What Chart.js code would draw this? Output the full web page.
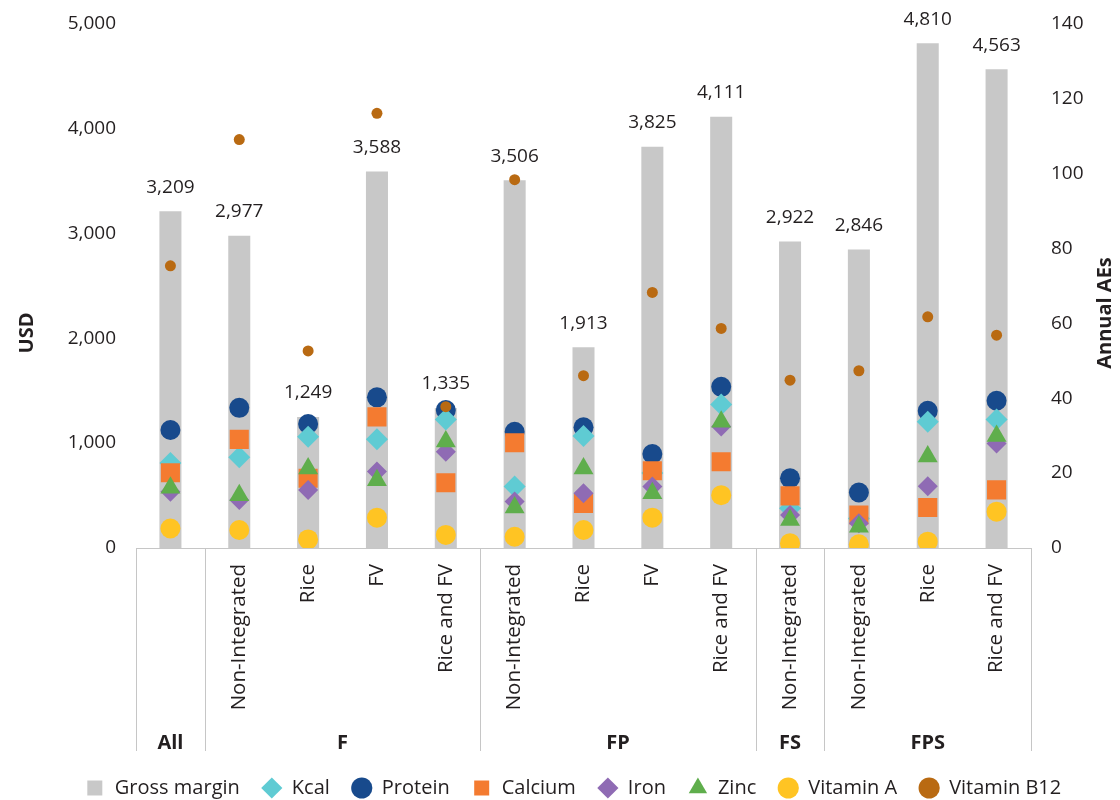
<!DOCTYPE html>
<html>
<head>
<meta charset="utf-8">
<script src="https://cdn.jsdelivr.net/npm/chart.js@4.4.0/dist/chart.umd.min.js"></script>
<style>
  html, body { margin: 0; padding: 0; background: #fff; }
  #wrap { width: 1120px; height: 800px; }
</style>
</head>
<body>
<div id="wrap"><canvas id="myChart"></canvas></div>
<script>
// Categories (sub-labels under each bar) and their groups
const categories = ['', 'Non-Integrated', 'Rice', 'FV', 'Rice and FV',
  'Non-Integrated', 'Rice', 'FV', 'Rice and FV',
  'Non-Integrated',
  'Non-Integrated', 'Rice', 'Rice and FV'];
const groupNames = ['All', 'F', 'FP', 'FS', 'FPS'];
const groupSizes = [1, 4, 4, 1, 3];

// Gross margin, USD (left axis)
const grossMargin = [3209, 2977, 1249, 3588, 1335, 3506, 1913, 3825, 4111, 2922, 2846, 4810, 4563];

// Annual AEs (right axis)
const kcal     = [22.7, 24.2, 29.7, 29.0, 34.3, 16.4, 29.9, 20.0, 38.3, 10.6, 7.9, 33.7, 34.3];
const protein  = [31.5, 37.4, 33.1, 40.2, 36.8, 31.0, 32.2, 25.1, 43.0, 18.6, 14.8, 36.6, 39.3];
const calcium  = [20.1, 29.0, 18.6, 35.0, 17.4, 28.1, 11.9, 20.6, 23.0, 13.9, 8.8, 10.8, 15.5];
const iron     = [15.0, 12.8, 15.5, 20.4, 25.7, 12.4, 14.6, 16.4, 32.4, 8.8, 6.6, 16.5, 27.9];
const zinc     = [16.1, 14.1, 21.2, 18.1, 28.4, 10.8, 21.2, 14.6, 33.7, 7.5, 5.7, 24.4, 29.9];
const vitaminA = [5.2, 4.8, 2.3, 8.1, 3.5, 3.0, 4.8, 8.1, 14.1, 1.3, 1.0, 1.7, 9.7];
const vitaminB12 = [75.3, 109, 52.6, 116, 37.7, 98.3, 46.0, 68.2, 58.6, 44.8, 47.3, 61.7, 56.8];

const FONT = "'Open Sans', 'Noto Sans', sans-serif";
const TEXT = '#231f20';
const LINE = '#c6c6c6';

Chart.defaults.font.family = FONT;
Chart.defaults.color = TEXT;

// Helper for the marker series
const marker = (label, data, color, style, radius, order) => ({
  type: 'line',
  label: label,
  data: data,
  yAxisID: 'y1',
  showLine: false,
  backgroundColor: color,
  borderColor: color,
  borderWidth: 0,
  pointStyle: style,
  pointRadius: radius,
  pointHoverRadius: radius,
  pointBorderWidth: 0,
  order: order
});

// Value labels above the bars
const barLabels = {
  id: 'barLabels',
  afterDatasetsDraw(chart) {
    const { ctx } = chart;
    const meta = chart.getDatasetMeta(0);
    ctx.save();
    ctx.font = '19px ' + FONT;
    ctx.fillStyle = TEXT;
    ctx.textAlign = 'center';
    ctx.textBaseline = 'middle';
    meta.data.forEach((bar, i) => {
      ctx.fillText(grossMargin[i].toLocaleString('en-US'), bar.x, bar.y - 24);
    });
    ctx.restore();
  }
};

// Group separators and group names under the x axis
const groupAxis = {
  id: 'groupAxis',
  afterDraw(chart) {
    const { ctx, chartArea } = chart;
    const x = chart.scales.x;
    const half = (x.getPixelForTick(1) - x.getPixelForTick(0)) / 2;
    const top = chartArea.bottom;
    const bottom = chartArea.bottom + 203;
    const edges = [x.getPixelForTick(0) - half];
    let count = 0;
    groupSizes.forEach(n => {
      count += n;
      edges.push(x.getPixelForTick(count - 1) + half);
    });
    ctx.save();
    ctx.strokeStyle = LINE;
    ctx.lineWidth = 1;
    edges.forEach(px => {
      ctx.beginPath();
      ctx.moveTo(Math.round(px) + 0.5, top);
      ctx.lineTo(Math.round(px) + 0.5, bottom);
      ctx.stroke();
    });
    ctx.font = 'bold 20px ' + FONT;
    ctx.fillStyle = TEXT;
    ctx.textAlign = 'center';
    ctx.textBaseline = 'middle';
    groupNames.forEach((name, i) => {
      ctx.fillText(name, (edges[i] + edges[i + 1]) / 2, chartArea.bottom + 195);
    });
    ctx.restore();
  }
};

// Axis titles, both reading bottom to top
const axisTitles = {
  id: 'axisTitles',
  afterDraw(chart) {
    const { ctx } = chart;
    ctx.save();
    ctx.font = 'bold 20px ' + FONT;
    ctx.fillStyle = TEXT;
    ctx.textAlign = 'center';
    ctx.textBaseline = 'middle';
    [['USD', 27, 333], ['Annual AEs', 1105, 313]].forEach(([t, px, py]) => {
      ctx.save();
      ctx.translate(px, py);
      ctx.rotate(-Math.PI / 2);
      ctx.fillText(t, 0, 0);
      ctx.restore();
    });
    ctx.restore();
  }
};

// Nudge the legend a little to the right, as in the original
const legendShift = {
  id: 'legendShift',
  afterLayout(chart) {
    if (chart.legend) {
      chart.legend.left += 13;
      chart.legend.right += 13;
    }
  }
};

new Chart(document.getElementById('myChart'), {
  type: 'bar',
  data: {
    labels: categories,
    datasets: [
      {
        label: 'Gross margin',
        data: grossMargin,
        yAxisID: 'y',
        backgroundColor: '#c8c8c8',
        borderWidth: 0,
        pointStyle: 'rect',
        barPercentage: 0.32,
        categoryPercentage: 1,
        order: 9
      },
      marker('Kcal', kcal, '#5fcbd3', 'rectRot', 11, 7),
      marker('Protein', protein, '#184a8c', 'circle', 10, 8),
      marker('Calcium', calcium, '#f47b30', 'rect', 13.5, 6),
      marker('Iron', iron, '#8f6bb4', 'rectRot', 10, 5),
      marker('Zinc', zinc, '#5fae4c', 'triangle', 11.5, 4),
      marker('Vitamin A', vitaminA, '#ffc423', 'circle', 10, 3),
      marker('Vitamin B12', vitaminB12, '#b96a12', 'circle', 5.5, 2)
    ]
  },
  options: {
    responsive: true,
    maintainAspectRatio: false,
    animation: false,
    layout: { padding: { top: 6, left: 0, right: 0, bottom: -8 } },
    scales: {
      x: {
        offset: true,
        grid: { display: false },
        border: { display: true, color: LINE, width: 1 },
        ticks: {
          autoSkip: false,
          maxRotation: 90,
          minRotation: 90,
          padding: 8,
          color: TEXT,
          font: { size: 20.5 }
        },
        afterFit: (scale) => { scale.height = 208; }
      },
      y: {
        position: 'left',
        min: 0,
        max: 5000,
        grid: { display: false },
        border: { display: false },
        ticks: {
          stepSize: 1000,
          padding: 12,
          color: TEXT,
          font: { size: 19 },
          callback: (v) => v.toLocaleString('en-US')
        },
        afterFit: (scale) => { scale.width = 136; }
      },
      y1: {
        position: 'right',
        min: 0,
        max: 140,
        grid: { display: false },
        border: { display: false },
        ticks: {
          stepSize: 20,
          padding: 12,
          color: TEXT,
          font: { size: 19 }
        },
        afterFit: (scale) => { scale.width = 89; }
      }
    },
    plugins: {
      legend: {
        position: 'bottom',
        labels: {
          usePointStyle: true,
          boxHeight: 15,
          padding: 22,
          color: TEXT,
          font: { size: 20 },
          sort: (a, b) => a.datasetIndex - b.datasetIndex
        }
      },
      tooltip: { enabled: false }
    }
  },
  plugins: [barLabels, groupAxis, axisTitles, legendShift]
});
</script>
</body>
</html>
